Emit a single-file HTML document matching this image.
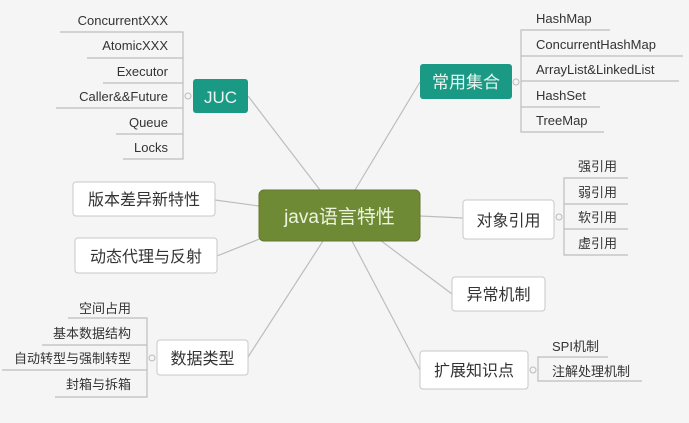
<!DOCTYPE html>
<html><head><meta charset="utf-8"><style>
html,body{margin:0;padding:0;background:#f5f5f5;}
svg{display:block;}
text{font-family:"Liberation Sans","Noto Sans CJK SC",sans-serif;fill:#333;}
</style></head><body>
<svg width="689" height="423" viewBox="0 0 689 423">
<rect width="689" height="423" fill="#f5f5f5"/>
<g stroke="#bdbdbd" stroke-width="1.2" fill="none">
<line x1="248" y1="96" x2="320" y2="190"/>
<line x1="420" y1="82" x2="355" y2="190"/>
<line x1="215" y1="200" x2="259" y2="206"/>
<line x1="217" y1="256" x2="262" y2="238"/>
<line x1="420" y1="216" x2="463" y2="218"/>
<line x1="380" y1="240" x2="452" y2="294"/>
<line x1="248" y1="357" x2="323" y2="241"/>
<line x1="420" y1="370" x2="352" y2="241"/>
<!-- JUC children -->
<polyline points="60,32 183,32 183,159 123,159"/>
<line x1="87" y1="58" x2="183" y2="58"/>
<line x1="103" y1="83" x2="183" y2="83"/>
<line x1="56" y1="108" x2="183" y2="108"/>
<line x1="116" y1="134" x2="183" y2="134"/>
<!-- collection children -->
<polyline points="610,30 521,30 521,132 604,132"/>
<line x1="521" y1="56" x2="683" y2="56"/>
<line x1="521" y1="81" x2="679" y2="81"/>
<line x1="521" y1="107" x2="600" y2="107"/>
<!-- reference children -->
<polyline points="628,178 564,178 564,255 628,255"/>
<line x1="564" y1="204" x2="628" y2="204"/>
<line x1="564" y1="229" x2="628" y2="229"/>
<!-- data type children -->
<polyline points="68,318 147,318 147,397 55,397"/>
<line x1="42" y1="345" x2="147" y2="345"/>
<line x1="2" y1="370" x2="147" y2="370"/>
<!-- ext children -->
<polyline points="608,357 538,357 538,381 642,381"/>
</g>
<g fill="#f5f5f5" stroke="#bbb" stroke-width="1">
<circle cx="188" cy="96" r="3"/><circle cx="516" cy="82" r="3"/>
<circle cx="559" cy="217" r="3"/><circle cx="152" cy="358" r="3"/><circle cx="533" cy="370" r="3"/>
</g>
<!-- main nodes -->
<rect x="259" y="190" width="161" height="51" rx="5" fill="#6f8a35" stroke="#62792e"/>
<text x="339.5" y="223" font-size="19" text-anchor="middle" style="fill:#eef3e0">java语言特性</text>
<rect x="193" y="79" width="55" height="34" rx="3" fill="#1a9a84"/>
<text x="220.5" y="103" font-size="17" text-anchor="middle" style="fill:#e8f6f2">JUC</text>
<rect x="420" y="64" width="92" height="35" rx="3" fill="#1a9a84"/>
<text x="466" y="88" font-size="17" text-anchor="middle" style="fill:#e8f6f2">常用集合</text>
<g fill="#fff" stroke="#c8c8c8" stroke-width="1">
<rect x="73" y="182" width="142" height="34" rx="3"/>
<rect x="75" y="238" width="142" height="35" rx="3"/>
<rect x="463" y="200" width="91" height="39" rx="3"/>
<rect x="452" y="277" width="93" height="34" rx="3"/>
<rect x="157" y="340" width="91" height="35" rx="3"/>
<rect x="420" y="351" width="108" height="38" rx="3"/>
</g>
<g font-size="16" text-anchor="middle">
<text x="144" y="205">版本差异新特性</text>
<text x="146" y="262">动态代理与反射</text>
<text x="508.5" y="226">对象引用</text>
<text x="498.5" y="300">异常机制</text>
<text x="202.5" y="364">数据类型</text>
<text x="474" y="376">扩展知识点</text>
</g>
<g font-size="13" text-anchor="end">
<text x="168" y="25">ConcurrentXXX</text>
<text x="168" y="50">AtomicXXX</text>
<text x="168" y="76">Executor</text>
<text x="168" y="101">Caller&amp;&amp;Future</text>
<text x="168" y="127">Queue</text>
<text x="168" y="152">Locks</text>
<text x="131" y="313">空间占用</text>
<text x="131" y="338">基本数据结构</text>
<text x="131" y="363">自动转型与强制转型</text>
<text x="131" y="389">封箱与拆箱</text>
</g>
<g font-size="13">
<text x="536" y="23">HashMap</text>
<text x="536" y="49">ConcurrentHashMap</text>
<text x="536" y="74">ArrayList&amp;LinkedList</text>
<text x="536" y="100">HashSet</text>
<text x="536" y="125">TreeMap</text>
<text x="578" y="171">强引用</text>
<text x="578" y="197">弱引用</text>
<text x="578" y="222">软引用</text>
<text x="578" y="248">虚引用</text>
<text x="552" y="351">SPI机制</text>
<text x="552" y="376">注解处理机制</text>
</g>
</svg>
</body></html>
